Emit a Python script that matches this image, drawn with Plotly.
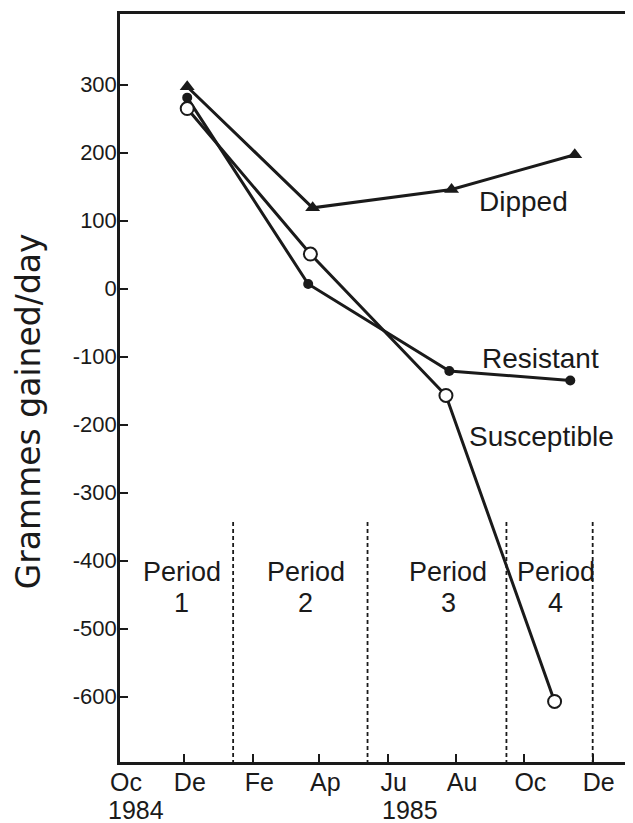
import plotly.graph_objects as go

# ---- data ----
tick_dates = ["1984-10-05", "1984-12-01", "1985-02-01", "1985-04-01",
              "1985-06-01", "1985-08-01", "1985-10-01", "1985-12-01"]
tick_labels = ["Oc", "De", "Fe", "Ap", "Ju", "Au", "Oc", "De"]
year_labels = ["1984", "1985"]
year_label_dates = ["1984-10-19", "1985-06-21"]
y_ticks = [300, 200, 100, 0, -100, -200, -300, -400, -500, -600]
y_tick_labels = ["300", "200", "100", "0", "-100", "-200", "-300", "-400", "-500", "-600"]

dipped_dates = ["1984-12-04", "1985-03-26", "1985-07-28", "1985-11-15"]
dipped_gain = [297, 119, 146, 197]
resistant_dates = ["1984-12-04", "1985-03-22", "1985-07-26", "1985-11-11"]
resistant_gain = [281, 7, -121, -135]
susceptible_dates = ["1984-12-04", "1985-03-24", "1985-07-23", "1985-10-28"]
susceptible_gain = [265, 51, -157, -607]

period_bounds = ["1985-01-14", "1985-05-14", "1985-09-15", "1985-12-01"]
period_numbers = ["1", "2", "3", "4"]
period_label_dates = ["1984-11-29", "1985-03-20", "1985-07-25", "1985-10-29"]

series_labels = ["Dipped", "Resistant", "Susceptible"]
series_label_dates = ["1985-09-30", "1985-10-15", "1985-10-16"]
series_label_vals = [128, -103, -218]

x_range = ["1984-10-05", "1986-01-06"]
y_range = [-696, 404]

INK = "#1a1a1a"
FONT = "Liberation Sans"

fig = go.Figure()

# period boundaries (dashed)
for d in period_bounds:
    fig.add_shape(type="line", xref="x", yref="y", x0=d, x1=d, y0=-343, y1=y_range[0],
                  line=dict(color=INK, width=1.8, dash="4px,3px"), layer="below")

fig.add_trace(go.Scatter(
    x=dipped_dates, y=dipped_gain, mode="lines+markers", name="Dipped",
    line=dict(color=INK, width=3),
    marker=dict(symbol="triangle-up", size=13, color=INK)))
fig.add_trace(go.Scatter(
    x=resistant_dates, y=resistant_gain, mode="lines+markers", name="Resistant",
    line=dict(color=INK, width=3),
    marker=dict(symbol="circle", size=10, color=INK)))
fig.add_trace(go.Scatter(
    x=susceptible_dates, y=susceptible_gain, mode="lines+markers", name="Susceptible",
    line=dict(color=INK, width=3),
    marker=dict(symbol="circle", size=13, color="white", line=dict(color=INK, width=2))))

for num, d in zip(period_numbers, period_label_dates):
    fig.add_annotation(x=d, y=-416, xref="x", yref="y", text="Period", showarrow=False,
                       font=dict(family=FONT, size=27, color=INK))
    fig.add_annotation(x=d, y=-462, xref="x", yref="y", text=num, showarrow=False,
                       font=dict(family=FONT, size=27, color=INK))

for name, d, v in zip(series_labels, series_label_dates, series_label_vals):
    fig.add_annotation(x=d, y=v, xref="x", yref="y", text=name, showarrow=False,
                       font=dict(family=FONT, size=28, color=INK))

for yl, d in zip(year_labels, year_label_dates):
    fig.add_annotation(x=d, y=-0.064, xref="x", yref="paper", text=yl, showarrow=False,
                       xanchor="center", yanchor="middle",
                       font=dict(family=FONT, size=25, color=INK))

fig.add_annotation(x=-0.179, y=0.469, xref="paper", yref="paper",
                   xanchor="center", yanchor="middle",
                   text="Grammes gained/day", textangle=-90, showarrow=False,
                   font=dict(family="DejaVu Sans", size=33, color=INK))

fig.update_layout(
    width=625, height=815,
    margin=dict(l=112, r=0, t=6, b=61),
    paper_bgcolor="white", plot_bgcolor="white",
    showlegend=False,
    font=dict(family=FONT, color=INK),
)
fig.update_xaxes(
    type="date", range=x_range, tickvals=tick_dates, ticktext=tick_labels,
    showgrid=False, zeroline=False, showline=True, linecolor=INK, linewidth=2.5,
    mirror=True, ticks="inside", ticklen=8, tickwidth=2, tickcolor=INK,
    tickfont=dict(family=FONT, size=25, color=INK), ticklabelstandoff=-4,
    ticklabelshift=6, automargin=False,
)
fig.update_yaxes(
    range=y_range, tickvals=y_ticks, ticktext=y_tick_labels,
    showgrid=False, zeroline=False, showline=True, linecolor=INK, linewidth=2.5,
    ticks="inside", ticklen=8, tickwidth=2, tickcolor=INK,
    tickfont=dict(family=FONT, size=22, color=INK), ticklabelstandoff=-4,
    automargin=False,
)

fig.write_html("out.html")
